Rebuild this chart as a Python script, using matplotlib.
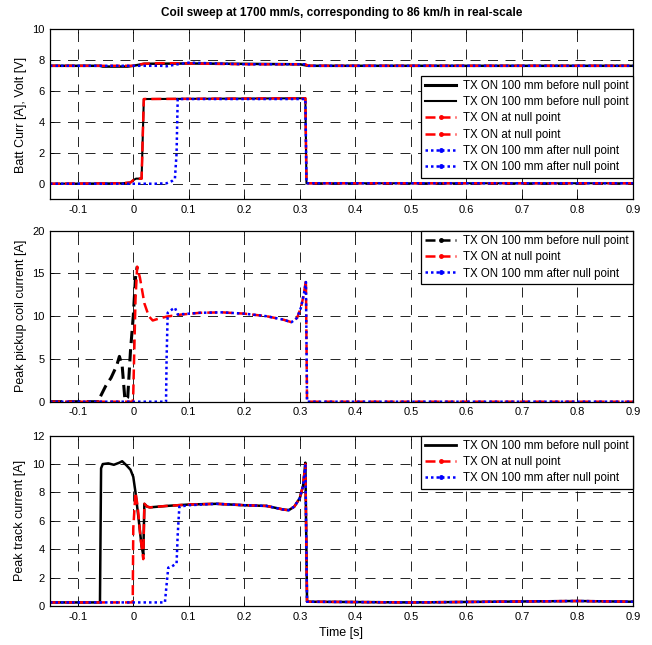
import matplotlib
matplotlib.use("Agg")
import matplotlib.pyplot as plt
from matplotlib.lines import Line2D
import numpy as np

plt.rcParams['font.family'] = ['Liberation Sans', 'DejaVu Sans']
plt.rcParams['font.size'] = 8

# --- Panel 1 : battery current / voltage ---
t_volt_before = [-0.15, -0.06, -0.055, -0.01, 0.0, 0.02, 0.1, 0.3, 0.315, 0.9]
v_before = [7.65, 7.65, 7.6, 7.6, 7.65, 7.78, 7.8, 7.75, 7.65, 7.65]
t_volt_null = [-0.15, 0.0, 0.018, 0.05, 0.1, 0.2, 0.31, 0.315, 0.9]
v_null = [7.65, 7.65, 7.78, 7.82, 7.8, 7.75, 7.75, 7.65, 7.65]
t_volt_after = [-0.15, 0.05, 0.06, 0.08, 0.1, 0.13, 0.2, 0.31, 0.315, 0.9]
v_after = [7.65, 7.65, 7.62, 7.75, 7.85, 7.82, 7.75, 7.75, 7.65, 7.65]

t_curr_null = [-0.15, -0.02, -0.005, 0.0, 0.005, 0.015, 0.017, 0.019, 0.31, 0.312, 0.9]
i_null = [0.02, 0.05, 0.1, 0.25, 0.35, 0.35, 3.0, 5.5, 5.55, 0.05, 0.05]
t_curr_after = [-0.15, 0.04, 0.06, 0.07, 0.075, 0.078, 0.08, 0.31, 0.312, 0.9]
i_after = [0.02, 0.02, 0.05, 0.2, 0.35, 2.0, 5.5, 5.5, 0.05, 0.05]

# --- Panel 2 : pickup coil current ---
t_pk_before = [-0.15, -0.061, -0.06, -0.05, -0.04, -0.03, -0.025, -0.02, -0.015, -0.01, -0.005, 0.0, 0.004, 0.007]
pk_before = [0.0, 0.0, 0.5, 1.8, 2.8, 4.2, 5.3, 4.2, 0.2, 0.5, 6.0, 10.0, 14.5, 15.8]
t_pk_null = [-0.15, -0.001, 0.0, 0.004, 0.007, 0.012, 0.02, 0.028, 0.035, 0.045, 0.06, 0.08, 0.12,
             0.16, 0.2, 0.24, 0.27, 0.285, 0.295, 0.302, 0.307, 0.311, 0.313, 0.9]
pk_null = [0.0, 0.0, 1.0, 12.0, 15.8, 14.5, 11.5, 10.0, 9.5, 9.7, 9.95, 10.15, 10.4,
           10.45, 10.3, 10.0, 9.6, 9.3, 9.8, 11.0, 12.5, 14.2, 0.0, 0.0]
t_pk_after = [-0.15, 0.059, 0.06, 0.062, 0.07, 0.075, 0.08, 0.09, 0.12, 0.16, 0.2, 0.24, 0.27,
              0.285, 0.295, 0.302, 0.307, 0.311, 0.313, 0.9]
pk_after = [0.0, 0.0, 5.0, 10.4, 10.8, 11.0, 10.2, 10.25, 10.4, 10.45, 10.3, 10.0, 9.6,
            9.3, 9.8, 11.0, 12.5, 14.0, 0.0, 0.0]

# --- Panel 3 : track current ---
t_tr_before = [-0.15, -0.06, -0.058, -0.055, -0.045, -0.035, -0.025, -0.02, -0.012, -0.005, 0.0, 0.004,
               0.01, 0.015, 0.018, 0.02, 0.025, 0.03, 0.06, 0.1, 0.15, 0.2, 0.24, 0.27, 0.28,
               0.29, 0.3, 0.306, 0.31, 0.313, 0.5, 0.8, 0.9]
tr_before = [0.25, 0.25, 9.7, 10.0, 10.05, 9.95, 10.1, 10.2, 9.9, 9.6, 9.1, 8.0,
             6.0, 4.2, 3.6, 7.2, 7.0, 6.95, 7.05, 7.15, 7.2, 7.1, 7.05, 6.8, 6.75,
             7.0, 7.6, 8.5, 10.1, 0.3, 0.25, 0.35, 0.3]
t_tr_null = [-0.15, -0.001, 0.0, 0.004, 0.008, 0.013, 0.018, 0.02, 0.025, 0.03, 0.06, 0.1,
             0.15, 0.2, 0.24, 0.27, 0.28, 0.29, 0.3, 0.306, 0.31, 0.313, 0.5, 0.8, 0.9]
tr_null = [0.25, 0.25, 5.5, 8.0, 7.0, 4.8, 3.3, 7.2, 7.0, 6.95, 7.05, 7.15,
           7.2, 7.1, 7.05, 6.8, 6.75, 7.0, 7.6, 8.5, 10.0, 0.3, 0.25, 0.35, 0.3]
t_tr_after = [-0.15, 0.057, 0.06, 0.063, 0.07, 0.078, 0.08, 0.083, 0.1, 0.15, 0.2, 0.24, 0.27,
              0.28, 0.29, 0.3, 0.306, 0.31, 0.313, 0.5, 0.8, 0.9]
tr_after = [0.25, 0.25, 1.5, 2.7, 2.8, 3.0, 5.0, 7.0, 7.1, 7.2, 7.1, 7.05, 6.8,
            6.75, 7.0, 7.6, 8.5, 9.9, 0.3, 0.25, 0.35, 0.3]

lab_before = 'TX ON 100 mm before null point'
lab_null = 'TX ON at null point'
lab_after = 'TX ON 100 mm after null point'

fig = plt.figure(figsize=(6.52, 6.45), dpi=100)
ax1 = fig.add_axes([0.0767, 0.6907, 0.894, 0.2636])
ax2 = fig.add_axes([0.0767, 0.3772, 0.894, 0.2651])
ax3 = fig.add_axes([0.0767, 0.0605, 0.894, 0.2640])

xticks = np.round(np.arange(-0.1, 0.91, 0.1), 1)
xticklabels = ['0' if x == 0 else f'{x:g}' for x in xticks]

DASH = (0, (4, 2))
DOT = (0, (1, 1.2))
LEG_KW = dict(loc='upper right', borderaxespad=0, fancybox=False, edgecolor='black',
              fontsize=8.3, handlelength=2.7, labelspacing=0.38, borderpad=0.35,
              handletextpad=0.6, framealpha=1)


def style(ax, ylim, yticks):
    ax.set_xlim(-0.15, 0.9)
    ax.set_ylim(*ylim)
    ax.set_xticks(xticks)
    ax.set_xticklabels(xticklabels)
    ax.set_yticks(yticks)
    ax.tick_params(direction='in', length=3, width=0.6, top=True, right=True, labelsize=8, pad=4)
    ax.grid(True, color='black', linestyle=(0, (12, 9)), linewidth=0.6)
    for s in ax.spines.values():
        s.set_linewidth(0.9)


def handle(color, ls, lw=1.8, marker='.'):
    return Line2D([], [], color=color, linestyle=ls, linewidth=lw, marker=marker, markersize=5)


# Panel 1
ax1.plot(t_volt_before, v_before, color='black', lw=1.8)
ax1.plot(t_curr_null, i_null, color='black', lw=1.5)
ax1.plot(t_volt_null, v_null, color='red', lw=1.8, linestyle=DASH)
ax1.plot(t_curr_null, i_null, color='red', lw=1.8, linestyle=DASH)
ax1.plot(t_volt_after, v_after, color='blue', lw=1.8, linestyle=DOT)
ax1.plot(t_curr_after, i_after, color='blue', lw=1.8, linestyle=DOT)
style(ax1, (-1, 10), range(0, 11, 2))
ax1.set_ylabel('Batt Curr [A], Volt [V]', fontsize=9)
ax1.set_title('Coil sweep at 1700 mm/s, corresponding to 86 km/h in real-scale',
              fontsize=8.5, fontweight='bold', pad=10)
h1 = [handle('black', '-', 2.2, None), handle('black', '-', 1.5, None),
      handle('red', DASH), handle('red', DASH),
      handle('blue', DOT), handle('blue', DOT)]
l1 = [lab_before, lab_before, lab_null, lab_null, lab_after, lab_after]
leg = ax1.legend(h1, l1, bbox_to_anchor=(1.0, 0.729), **LEG_KW)
leg.get_frame().set_linewidth(0.9)

# Panel 2
ax2.plot(t_pk_before, pk_before, color='black', lw=2.2, linestyle=DASH)
ax2.plot(t_pk_null, pk_null, color='red', lw=1.8, linestyle=DASH)
ax2.plot(t_pk_after, pk_after, color='blue', lw=1.8, linestyle=DOT)
style(ax2, (0, 20), range(0, 21, 5))
ax2.set_ylabel('Peak pickup coil current [A]', fontsize=9)
h2 = [handle('black', DASH), handle('red', DASH), handle('blue', DOT)]
leg = ax2.legend(h2, [lab_before, lab_null, lab_after], **LEG_KW)
leg.get_frame().set_linewidth(0.9)

# Panel 3
ax3.plot(t_tr_before, tr_before, color='black', lw=1.8)
ax3.plot(t_tr_null, tr_null, color='red', lw=1.8, linestyle=DASH)
ax3.plot(t_tr_after, tr_after, color='blue', lw=1.8, linestyle=DOT)
style(ax3, (0, 12), range(0, 13, 2))
ax3.set_ylabel('Peak track current [A]', fontsize=9)
ax3.set_xlabel('Time [s]', fontsize=9)
h3 = [handle('black', '-', 2.0, None), handle('red', DASH), handle('blue', DOT)]
leg = ax3.legend(h3, [lab_before, lab_null, lab_after], **LEG_KW)
leg.get_frame().set_linewidth(0.9)

fig.savefig('out.png', dpi=100)
